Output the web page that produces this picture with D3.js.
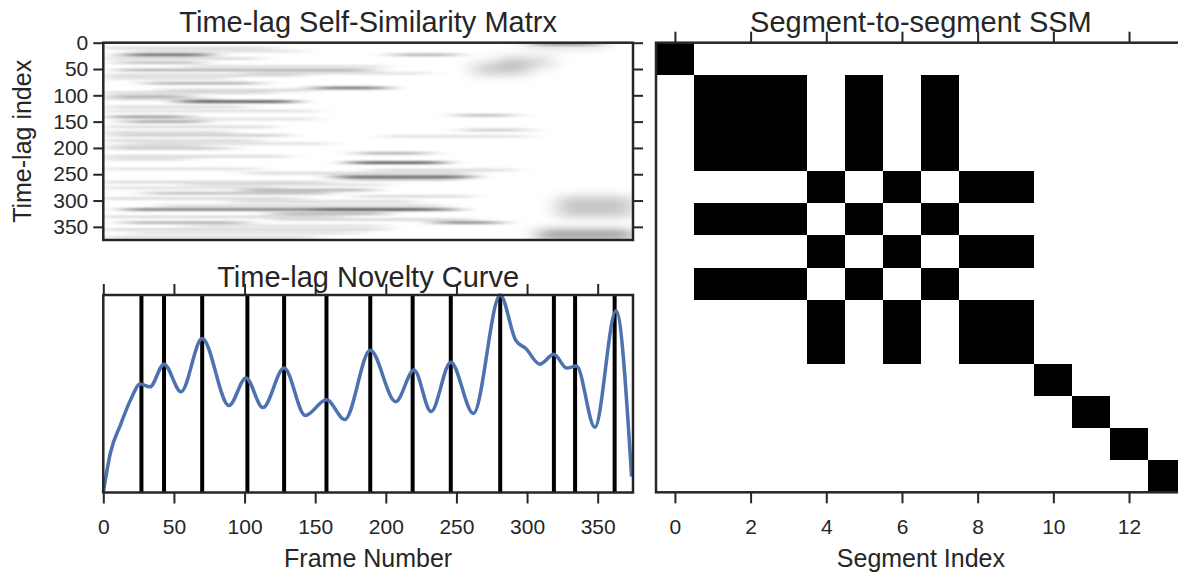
<!DOCTYPE html>
<html>
<head>
<meta charset="utf-8">
<script src="https://cdn.jsdelivr.net/npm/d3@7.9.0/dist/d3.min.js"></script>
<style>
  html, body { margin: 0; padding: 0; background: #fff; overflow: hidden; }
  svg { display: block; font-family: "Liberation Sans", Arial, sans-serif; }
  .axis text { fill: #262626; font-size: 21px; }
  .axis path, .axis line { stroke: #262626; stroke-width: 2; }
  .ttl { fill: #262626; font-size: 29px; text-anchor: middle; }
  .lbl { fill: #262626; font-size: 25px; text-anchor: middle; }
</style>
</head>
<body>
<svg id="fig" width="1178" height="573"></svg>
<script>
// ---- data ----
const frameTicks = [0, 50, 100, 150, 200, 250, 300, 350];
const lagTicks = [0, 50, 100, 150, 200, 250, 300, 350];
const segTicks = [0, 2, 4, 6, 8, 10, 12];

// novelty curve (frame, value normalised to the axes height)
const noveltyFrames = [0, 5, 12, 20, 26, 33, 43, 55, 70, 89, 101, 113, 128, 143, 158, 171, 189, 207, 220, 232, 246, 262, 281, 292, 299, 309, 319, 328, 335, 348, 363, 374];
const noveltyValues = [0, 0.2, 0.34, 0.48, 0.55, 0.535, 0.65, 0.51, 0.78, 0.44, 0.58, 0.43, 0.63, 0.39, 0.47, 0.37, 0.72, 0.46, 0.62, 0.41, 0.66, 0.40, 1.0, 0.77, 0.73, 0.65, 0.70, 0.63, 0.64, 0.33, 0.92, 0.08];

// segment boundaries (frames)
const boundaries = [27, 43, 70, 102, 128, 158, 189, 219, 246, 281, 319, 334, 362];

// cluster label of each segment; SSM cell is black when labels match
const segLabels = ['A', 'B', 'B', 'B', 'C', 'B', 'C', 'B', 'C', 'C', 'D', 'E', 'F', 'G'];

// time-lag matrix: horizontal streaks [lag, frameStart, frameEnd, darkness]
const streaks = [
  [23, 15, 75, 0.6], [23, 205, 250, 0.3], [38, 10, 70, 0.25], [52, 10, 190, 0.3],
  [3, 305, 350, 0.35],
  [77, 30, 110, 0.3], [86, 150, 200, 0.55], [102, 5, 60, 0.3], [112, 55, 135, 0.65],
  [141, 5, 60, 0.4], [138, 250, 290, 0.25], [150, 15, 70, 0.35], [166, 255, 300, 0.2],
  [176, 5, 130, 0.2], [201, 5, 90, 0.2], [210, 180, 230, 0.3], [228, 175, 240, 0.65],
  [255, 165, 260, 0.6], [280, 100, 190, 0.3], [286, 30, 160, 0.25], [317, 15, 250, 0.5],
  [317, 150, 230, 0.35], [325, 120, 200, 0.3], [342, 15, 100, 0.3], [342, 235, 280, 0.45],
  [10, 0, 120, 0.15], [30, 0, 110, 0.15], [62, 0, 140, 0.15], [68, 0, 90, 0.12],
  [95, 0, 120, 0.15], [122, 0, 100, 0.15], [130, 0, 150, 0.12], [160, 0, 120, 0.15],
  [186, 0, 110, 0.15], [192, 20, 160, 0.12], [216, 0, 130, 0.15], [240, 0, 110, 0.12],
  [265, 0, 160, 0.15], [270, 60, 200, 0.12], [296, 0, 140, 0.15], [302, 90, 220, 0.15],
  [331, 0, 170, 0.15], [355, 0, 200, 0.15], [370, 0, 150, 0.15], [178, 200, 300, 0.12],
  [242, 190, 290, 0.15], [292, 180, 260, 0.15], [16, 20, 140, 0.12], [45, 60, 200, 0.12],
  [58, 100, 230, 0.12], [90, 40, 150, 0.15], [107, 0, 80, 0.15], [145, 60, 150, 0.12],
  [170, 0, 90, 0.15], [196, 0, 70, 0.12], [222, 0, 60, 0.12], [248, 100, 260, 0.15],
  [260, 170, 250, 0.2], [276, 0, 120, 0.12], [310, 40, 240, 0.15], [336, 120, 260, 0.15],
  [348, 60, 200, 0.12], [362, 20, 180, 0.12]
];
// broad soft blobs [lagStart, lagEnd, frameStart, frameEnd, darkness]
const blobs = [
  [292, 332, 322, 375, 0.22],
  [358, 372, 308, 375, 0.55],
  [0, 8, 300, 355, 0.25],
  [38, 62, 262, 300, 0.2],
  [26, 48, 280, 318, 0.16]
];

// ---- drawing ----
const svg = d3.select('#fig');
const defs = svg.append('defs');

const xFrame = d3.scaleLinear().domain([0, 375]).range([103.3, 633]);
const yLag = d3.scaleLinear().domain([0, 375]).range([42.7, 240]);
const yNov = d3.scaleLinear().domain([0, 1]).range([492.5, 295]);
const xSeg = d3.scaleLinear().domain([-0.5, 13.5]).range([656, 1185.8]);
const ySeg = d3.scaleLinear().domain([-0.5, 13.5]).range([42.7, 492.3]);

defs.append('clipPath').attr('id', 'hm-clip').append('rect')
  .attr('x', xFrame(0)).attr('y', yLag(0))
  .attr('width', xFrame(375) - xFrame(0)).attr('height', yLag(375) - yLag(0));
defs.append('filter').attr('id', 'streak-blur').attr('x', '-50%').attr('y', '-400%').attr('width', '200%').attr('height', '900%')
  .append('feGaussianBlur').attr('stdDeviation', '13 1.2');
defs.append('filter').attr('id', 'blob-blur').attr('x', '-50%').attr('y', '-50%').attr('width', '200%').attr('height', '200%')
  .append('feGaussianBlur').attr('stdDeviation', '10 5');

// 1) time-lag self-similarity matrix
const hm = svg.append('g').attr('clip-path', 'url(#hm-clip)');
hm.append('rect').attr('x', xFrame(0)).attr('y', yLag(0))
  .attr('width', xFrame(375) - xFrame(0)).attr('height', yLag(375) - yLag(0)).attr('fill', '#fff');
hm.append('g').attr('filter', 'url(#blob-blur)').selectAll('rect').data(blobs).join('rect')
  .attr('x', d => xFrame(d[2])).attr('y', d => yLag(d[0]))
  .attr('width', d => xFrame(d[3]) - xFrame(d[2])).attr('height', d => yLag(d[1]) - yLag(d[0]))
  .attr('fill', '#000').attr('fill-opacity', d => d[4]);
hm.append('g').attr('filter', 'url(#streak-blur)').selectAll('rect').data(streaks).join('rect')
  .attr('x', d => xFrame(d[1])).attr('y', d => yLag(d[0]) - 1.4)
  .attr('width', d => xFrame(d[2]) - xFrame(d[1])).attr('height', 2.8)
  .attr('fill', '#000').attr('fill-opacity', d => d[3]);

svg.append('g').attr('class', 'axis').attr('transform', `translate(${xFrame(0)},0)`)
  .call(d3.axisLeft(yLag).tickValues(lagTicks).tickSize(10).tickPadding(5).tickSizeOuter(0))
  .call(g => g.select('.domain').remove());
svg.append('g').attr('class', 'axis').attr('transform', `translate(${xFrame(375)},0)`)
  .call(d3.axisRight(yLag).tickValues(lagTicks).tickSize(10).tickFormat('').tickSizeOuter(0))
  .call(g => g.select('.domain').remove());
svg.append('rect').attr('x', xFrame(0)).attr('y', yLag(0))
  .attr('width', xFrame(375) - xFrame(0)).attr('height', yLag(375) - yLag(0))
  .attr('fill', 'none').attr('stroke', '#262626').attr('stroke-width', 2.5);

svg.append('text').attr('class', 'ttl').attr('x', (xFrame(0) + xFrame(375)) / 2).attr('y', 32)
  .text('Time-lag Self-Similarity Matrx');
svg.append('text').attr('class', 'lbl')
  .attr('transform', `translate(31,${(yLag(0) + yLag(375)) / 2}) rotate(-90)`)
  .text('Time-lag index');

// 2) novelty curve
svg.append('g').attr('class', 'axis').attr('transform', `translate(0,${yNov(0)})`)
  .call(d3.axisBottom(xFrame).tickValues(frameTicks).tickSize(11).tickPadding(16).tickSizeOuter(0))
  .call(g => g.select('.domain').remove());
svg.append('g').attr('class', 'axis').attr('transform', `translate(0,${yNov(1)})`)
  .call(d3.axisTop(xFrame).tickValues(frameTicks).tickSize(11).tickFormat('').tickSizeOuter(0))
  .call(g => g.select('.domain').remove());

svg.append('g').selectAll('line').data(boundaries).join('line')
  .attr('x1', d => xFrame(d)).attr('x2', d => xFrame(d))
  .attr('y1', yNov(0)).attr('y2', yNov(1))
  .attr('stroke', '#000').attr('stroke-width', 4);

const line = d3.line()
  .x((d, i) => xFrame(noveltyFrames[i]))
  .y(d => yNov(d))
  .curve(d3.curveMonotoneX);
svg.append('path').datum(noveltyValues).attr('d', line)
  .attr('fill', 'none').attr('stroke', '#4c72b0').attr('stroke-width', 3.5);

svg.append('rect').attr('x', xFrame(0)).attr('y', yNov(1))
  .attr('width', xFrame(375) - xFrame(0)).attr('height', yNov(0) - yNov(1))
  .attr('fill', 'none').attr('stroke', '#262626').attr('stroke-width', 2.5);

svg.append('text').attr('class', 'ttl').attr('x', (xFrame(0) + xFrame(375)) / 2).attr('y', 287)
  .text('Time-lag Novelty Curve');
svg.append('text').attr('class', 'lbl').attr('x', (xFrame(0) + xFrame(375)) / 2).attr('y', 567)
  .text('Frame Number');

// 3) segment-to-segment SSM
const cells = [];
segLabels.forEach((a, i) => segLabels.forEach((b, j) => cells.push({ row: i, col: j, on: a === b })));
svg.append('g').attr('shape-rendering', 'crispEdges')
  .selectAll('rect').data(cells.filter(c => c.on)).join('rect')
  .attr('x', d => Math.round(xSeg(d.col - 0.5))).attr('y', d => Math.round(ySeg(d.row - 0.5)))
  .attr('width', d => Math.round(xSeg(d.col + 0.5)) - Math.round(xSeg(d.col - 0.5)))
  .attr('height', d => Math.round(ySeg(d.row + 0.5)) - Math.round(ySeg(d.row - 0.5)))
  .attr('fill', '#000');

svg.append('g').attr('class', 'axis').attr('transform', `translate(0,${ySeg(13.5)})`)
  .call(d3.axisBottom(xSeg).tickValues(segTicks).tickSize(11).tickPadding(16).tickSizeOuter(0))
  .call(g => g.select('.domain').remove());
svg.append('g').attr('class', 'axis').attr('transform', `translate(0,${ySeg(-0.5)})`)
  .call(d3.axisTop(xSeg).tickValues(segTicks).tickSize(11).tickFormat('').tickSizeOuter(0))
  .call(g => g.select('.domain').remove());
svg.append('rect').attr('x', xSeg(-0.5)).attr('y', ySeg(-0.5))
  .attr('width', xSeg(13.5) - xSeg(-0.5)).attr('height', ySeg(13.5) - ySeg(-0.5))
  .attr('fill', 'none').attr('stroke', '#262626').attr('stroke-width', 2.5);

svg.append('text').attr('class', 'ttl').attr('x', (xSeg(-0.5) + xSeg(13.5)) / 2).attr('y', 32)
  .text('Segment-to-segment SSM');
svg.append('text').attr('class', 'lbl').attr('x', (xSeg(-0.5) + xSeg(13.5)) / 2).attr('y', 567)
  .text('Segment Index');
</script>
</body>
</html>
